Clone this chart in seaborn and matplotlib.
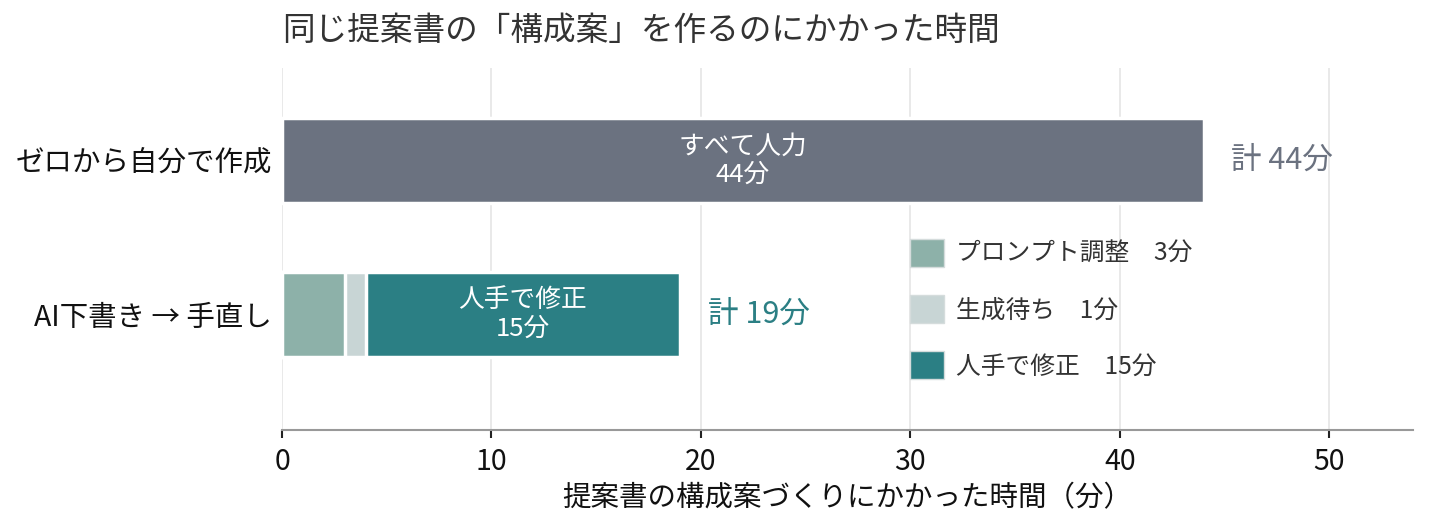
import pandas as pd
import seaborn as sns
import matplotlib.pyplot as plt
from matplotlib.patches import Patch

# データ
methods = ['ゼロから自分で作成', 'AI下書き → 手直し']
manual_segments = ['すべて人力']
manual_minutes = [44]
ai_segments = ['プロンプト調整', '生成待ち', '人手で修正']
ai_minutes = [3, 1, 15]

gray = '#6B7280'
ai_colors = ['#8DB1A9', '#C8D5D5', '#2B7F84']
teal = '#2B7F84'

sns.set_theme(style='white')
plt.rcParams['font.family'] = ['Noto Sans CJK JP', 'DejaVu Sans']

# 積み上げ用に累積値を作る
rows = []
for seg, m in zip(manual_segments, manual_minutes):
    rows.append({'method': methods[0], 'segment': seg, 'minutes': m, 'start': 0, 'end': m, 'color': gray})
start = 0
for seg, m, c in zip(ai_segments, ai_minutes, ai_colors):
    rows.append({'method': methods[1], 'segment': seg, 'minutes': m, 'start': start, 'end': start + m, 'color': c})
    start += m
df = pd.DataFrame(rows)

fig = plt.figure(figsize=(14.29, 5.28), dpi=100)
ax = fig.add_axes([282 / 1429, 1 - 430 / 528, 1131 / 1429, 362 / 528])

# 長い順に重ねて描く（白い縁で区切り）
for _, r in df.sort_values('end', ascending=False).iterrows():
    sub = df[df['segment'] == r['segment']]
    sns.barplot(data=sub, x='end', y='method', order=methods, color=r['color'],
                width=0.55, edgecolor='white', linewidth=2.5, saturation=1, ax=ax)

ax.set_xlim(0, 54)
ax.set_ylim(1.75, -0.6)

# バー内ラベル
for _, r in df.iterrows():
    if r['minutes'] >= 10:
        ax.text((r['start'] + r['end']) / 2, methods.index(r['method']),
                f"{r['segment']}\n{r['minutes']}分", ha='center', va='center',
                color='white', fontsize=18.5, linespacing=1.1)

# 合計ラベル
totals = df.groupby('method', sort=False)['minutes'].sum()
total_colors = [gray, teal]
for i, m in enumerate(methods):
    ax.annotate(f'計 {totals[m]}分', xy=(totals[m], i), xytext=(20, 0),
                textcoords='offset points', ha='left', va='center',
                fontsize=22, color=total_colors[i])

# 凡例
handles = [Patch(facecolor=c, edgecolor='#d5dcdc', linewidth=1) for c in ai_colors]
labels = [f'{s}\u3000{m}分' for s, m in zip(ai_segments, ai_minutes)]
ax.legend(handles, labels, loc='upper left', bbox_to_anchor=(0.555, 0.528),
          frameon=False, borderpad=0, borderaxespad=0, fontsize=17.8,
          handlelength=1.38, handleheight=1.38, labelspacing=1.12,
          handletextpad=0.5, labelcolor='#333333')

ax.grid(axis='x', color='#E5E5E5', linewidth=1.2)
ax.set_axisbelow(True)
sns.despine(ax=ax, left=True)
ax.spines['bottom'].set_color('#999999')
ax.spines['bottom'].set_linewidth(1.5)
ax.tick_params(axis='x', bottom=True, length=6, width=1.5, color='#222222',
               labelsize=20.5, labelcolor='#111111', pad=6)
ax.tick_params(axis='y', left=False, labelsize=20.5, labelcolor='#111111', pad=1)
ax.set_ylabel('')
ax.set_xlabel('提案書の構成案づくりにかかった時間（分）', fontsize=20.5, color='#111111', labelpad=5)

fig.text(282 / 1429, 1 - 31 / 528, '同じ提案書の「構成案」を作るのにかかった時間',
         ha='left', va='center', fontsize=23.5, color='#333333')

fig.savefig('out.png', dpi=100)
